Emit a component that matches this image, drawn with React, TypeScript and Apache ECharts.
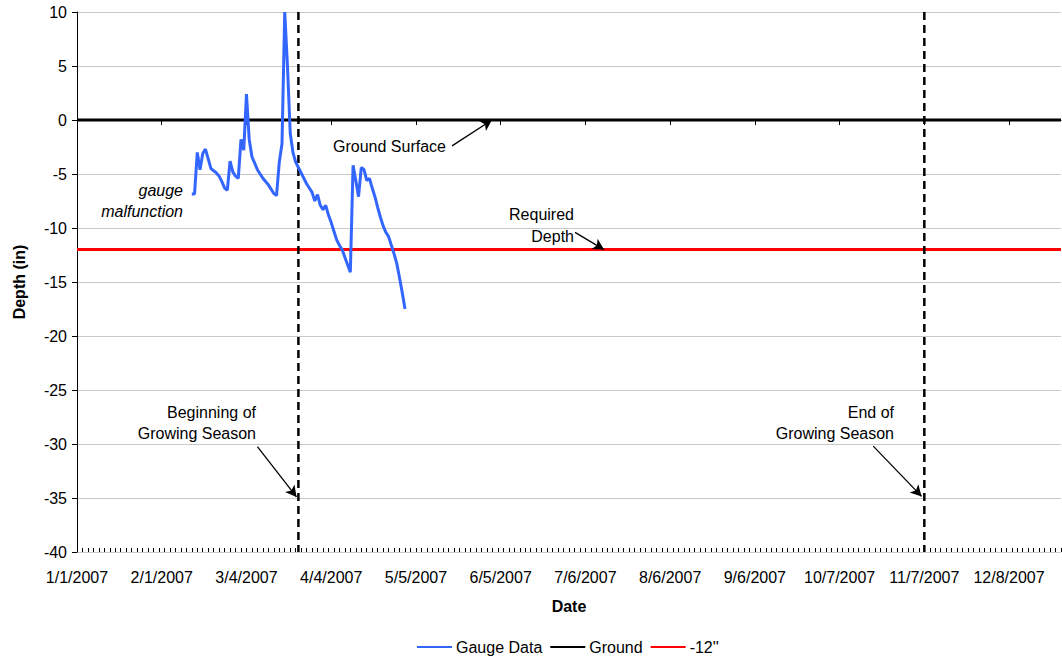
import React, { useEffect, useRef } from "react";
import * as echarts from "echarts";

const gaugeDates = [
  "2007-02-12", "2007-02-13", "2007-02-14", "2007-02-15", "2007-02-16", "2007-02-17", "2007-02-18",
  "2007-02-19", "2007-02-20", "2007-02-21", "2007-02-22", "2007-02-23", "2007-02-24", "2007-02-25",
  "2007-02-26", "2007-02-27", "2007-02-28", "2007-03-01", "2007-03-02", "2007-03-03", "2007-03-04",
  "2007-03-05", "2007-03-06", "2007-03-07", "2007-03-08", "2007-03-09", "2007-03-10", "2007-03-11",
  "2007-03-12", "2007-03-13", "2007-03-14", "2007-03-15", "2007-03-16", "2007-03-17", "2007-03-18",
  "2007-03-19", "2007-03-20", "2007-03-21", "2007-03-22", "2007-03-23", "2007-03-24", "2007-03-25",
  "2007-03-26", "2007-03-27", "2007-03-28", "2007-03-29", "2007-03-30", "2007-03-31", "2007-04-01",
  "2007-04-02", "2007-04-03", "2007-04-04", "2007-04-05", "2007-04-06", "2007-04-07", "2007-04-08",
  "2007-04-09", "2007-04-10", "2007-04-11", "2007-04-12", "2007-04-13", "2007-04-14", "2007-04-15",
  "2007-04-16", "2007-04-17", "2007-04-18", "2007-04-19", "2007-04-20", "2007-04-21", "2007-04-22",
  "2007-04-23", "2007-04-24", "2007-04-25", "2007-04-26", "2007-04-27", "2007-04-28", "2007-04-29",
  "2007-04-30", "2007-05-01",
];
const gaugeValues = [
  -6.85, -6.85, -3.0, -4.6, -3.1, -2.7, -3.6,
  -4.5, -4.7, -4.9, -5.2, -5.7, -6.3, -6.5,
  -3.8, -4.8, -5.2, -5.4, -1.8, -2.8, 2.4,
  -1.8, -3.4, -4.0, -4.6, -5.0, -5.4, -5.7,
  -6.0, -6.4, -6.8, -7.0, -3.9, -2.2, 10.0,
  5.0, -1.2, -3.0, -3.9, -4.4, -4.9, -5.4,
  -5.9, -6.3, -6.7, -7.5, -6.9, -7.9, -8.3,
  -7.9, -8.8, -9.5, -10.3, -11.1, -11.6, -12.0,
  -12.7, -13.4, -14.1, -4.2, -5.6, -7.1, -4.4,
  -4.6, -5.6, -5.4, -6.3, -7.1, -8.1, -9.0,
  -9.8, -10.4, -10.8, -11.6, -12.4, -13.3, -14.6,
  -16.0, -17.5,
];

const axisStart = "2007-01-01";
const axisEnd = "2007-12-27";
const tickIntervalDays = 31;
const groundDepth = 0;
const requiredDepth = -12;
const seasonStart = "2007-03-23";
const seasonEnd = "2007-11-07";
const yMin = -40;
const yMax = 10;
const yInterval = 5;

const DAY = 86400000;
const dayOf = (s: string) => {
  const [y, m, d] = s.split("-").map(Number);
  return Math.round((Date.UTC(y, m - 1, d) - Date.UTC(2007, 0, 1)) / DAY);
};
const fmtDay = (v: number) => {
  const dt = new Date(Date.UTC(2007, 0, 1) + Math.round(v) * DAY);
  return `${dt.getUTCMonth() + 1}/${dt.getUTCDate()}/${dt.getUTCFullYear()}`;
};

const FONT = "Liberation Sans, Arial, sans-serif";
const FS = 16;

export default function App() {
  const ref = useRef<HTMLDivElement>(null);
  useEffect(() => {
    if (!ref.current) return;
    const chart = echarts.init(ref.current, undefined, { renderer: "svg" });
    const xMin = dayOf(axisStart);
    const xMax = dayOf(axisEnd);
    const sStart = dayOf(seasonStart);
    const sEnd = dayOf(seasonEnd);
    const gaugeData = gaugeDates.map((d, i) => [dayOf(d), gaugeValues[i]]);
    const arrowStyle = { color: "#000", width: 1.3, type: "solid" as const };

    const txt = (text: string, x: number, y: number, align: string, italic = false) => ({
      type: "text",
      x,
      y,
      style: {
        text,
        fill: "#000",
        font: `${italic ? "italic " : ""}${FS}px ${FONT}`,
        align,
        verticalAlign: "middle",
      },
    });

    chart.setOption({
      animation: false,
      textStyle: { fontFamily: FONT },
      grid: { left: 77, top: 12, right: 1, bottom: 110, containLabel: false },
      legend: {
        top: 634,
        left: 412,
        itemWidth: 35,
        itemHeight: 10,
        itemGap: 8,
        icon: "path://M0,4 L35,4 L35,6.2 L0,6.2 Z",
        textStyle: { fontSize: FS, color: "#000", fontFamily: FONT, padding: [0, 0, 0, -1] },
        data: ["Gauge Data", "Ground", "-12''"],
      },
      xAxis: [
        {
          type: "value",
          min: xMin,
          max: xMax,
          interval: tickIntervalDays,
          axisLine: { lineStyle: { color: "#000", width: 1 } },
          axisTick: { show: true, inside: false, length: 5, lineStyle: { color: "#000" } },
          axisLabel: {
            formatter: (v: number) => fmtDay(v),
            color: "#000",
            fontSize: FS,
            margin: 17,
            showMaxLabel: false,
            fontFamily: FONT,
          },
          splitLine: { show: false },
          name: "Date",
          nameLocation: "middle",
          nameGap: 46,
          nameTextStyle: { fontWeight: "bold", fontSize: FS, color: "#000", fontFamily: FONT },
        },
        {
          type: "value",
          min: xMin,
          max: xMax,
          interval: 2,
          position: "bottom",
          axisLine: { show: false },
          axisTick: { show: true, inside: true, length: 4, lineStyle: { color: "#000" } },
          axisLabel: { show: false },
          splitLine: { show: false },
        },
      ],
      yAxis: {
        type: "value",
        min: yMin,
        max: yMax,
        interval: yInterval,
        axisLine: { show: true, lineStyle: { color: "#000", width: 1 } },
        axisTick: { show: true, inside: false, length: 5, lineStyle: { color: "#000" } },
        axisLabel: { color: "#000", fontSize: FS, margin: 10, fontFamily: FONT },
        splitLine: { show: true, lineStyle: { color: "#c8c8c8", width: 1 } },
        name: "Depth (in)",
        nameLocation: "middle",
        nameGap: 50,
        nameTextStyle: { fontWeight: "bold", fontSize: FS, color: "#000", fontFamily: FONT },
      },
      series: [
        {
          name: "Ground",
          type: "line",
          data: [[xMin, groundDepth], [xMax, groundDepth]],
          showSymbol: false,
          symbol: "none",
          lineStyle: { color: "#000", width: 3 },
          itemStyle: { color: "#000" },
          z: 3,
        },
        {
          name: "-12''",
          type: "line",
          data: [[xMin, requiredDepth], [xMax, requiredDepth]],
          showSymbol: false,
          symbol: "none",
          lineStyle: { color: "#ff0000", width: 3 },
          itemStyle: { color: "#ff0000" },
          z: 3,
        },
        {
          name: "seasonStart",
          type: "line",
          data: [[sStart, yMax], [sStart, yMin]],
          symbol: "none",
          lineStyle: { color: "#000", width: 2.5, type: [8, 5] },
          z: 4,
        },
        {
          name: "seasonEnd",
          type: "line",
          data: [[sEnd, yMax], [sEnd, yMin]],
          symbol: "none",
          lineStyle: { color: "#000", width: 2.5, type: [8, 5] },
          z: 4,
        },
        {
          name: "Gauge Data",
          type: "line",
          data: gaugeData,
          showSymbol: false,
          symbol: "none",
          lineStyle: { color: "#3366ff", width: 3 },
          itemStyle: { color: "#3366ff" },
          z: 5,
        },
        {
          name: "arrows",
          type: "line",
          data: [],
          markLine: {
            silent: true,
            symbol: ["none", "arrow"],
            symbolSize: [9, 11],
            label: { show: false },
            lineStyle: arrowStyle,
            data: [
              [{ coord: [137.2, -2.4] }, { coord: [151.8, 0] }],
              [{ coord: [182.2, -10.4] }, { coord: [192.8, -12] }],
              [{ coord: [66.0, -30.25] }, { coord: [80.3, -34.9] }],
              [{ coord: [291.3, -30.2] }, { coord: [309.0, -34.85] }],
            ],
          },
          z: 6,
        },
      ],
      graphic: [
        txt("Ground Surface", 333, 146, "left"),
        txt("Required", 574, 214, "right"),
        txt("Depth", 574, 236, "right"),
        txt("gauge", 183, 190, "right", true),
        txt("malfunction", 183, 211, "right", true),
        txt("Beginning of", 256, 412, "right"),
        txt("Growing Season", 256, 433, "right"),
        txt("End of", 894, 412, "right"),
        txt("Growing Season", 894, 433, "right"),
      ],
    });
    return () => chart.dispose();
  }, []);
  return <div ref={ref} style={{ width: 1062, height: 662, position: "absolute", left: 0, top: 0 }} />;
}
